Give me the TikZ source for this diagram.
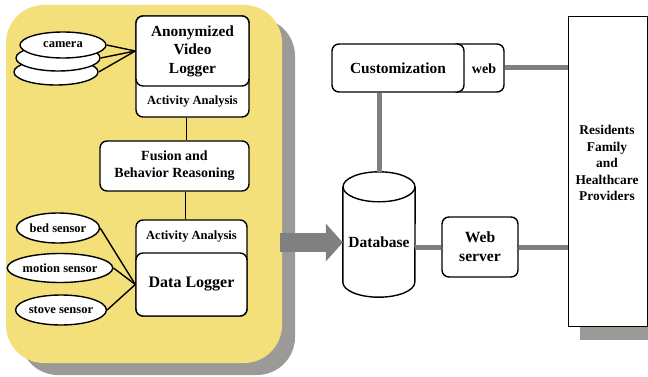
\documentclass[tikz,border=0pt]{standalone}
\usepackage{fontspec}
\setmainfont{Liberation Serif}
\usetikzlibrary{shapes.geometric,arrows.meta}

\definecolor{panelyellow}{RGB}{244,224,122}
\definecolor{shadowgray}{RGB}{156,154,150}
\definecolor{linkgray}{RGB}{128,128,128}

\tikzset{
    box/.style={draw, line width=1.4pt, rounded corners=7pt, fill=white, inner sep=0pt},
    sensor/.style={draw, line width=1.4pt, ellipse, fill=white, inner sep=0pt, font=\bfseries\fontsize{12.5}{14}\selectfont},
    lbl/.style={inner sep=0pt, align=center},
    wire/.style={line width=1.4pt},
    link/.style={line width=5pt, linkgray}
}

\begin{document}
\begin{tikzpicture}[x=1pt, y=-1pt]

        \useasboundingbox (0,0) rectangle (648,377);

        % sensing panel
        \fill[shadowgray, rounded corners=38pt] (20,18) rectangle (295,375);
        \fill[panelyellow, rounded corners=38pt] (6,5) rectangle (282,363);

        % video logger
        \node[box, minimum width=113pt, minimum height=101pt] (vlog) at (192.5,66.5) {};
        \node[box, minimum width=113pt, minimum height=70pt, font=\bfseries\fontsize{15.4}{18.5}\selectfont, align=center] (vtop) at (192.5,51) {Anonymized\\Video\\Logger};
        \node[lbl, font=\bfseries\fontsize{12.5}{14}\selectfont] (vact) at (192.5,101.5) {Activity Analysis};

        \node[sensor, minimum width=84pt, minimum height=26pt] (cam3) at (56,72) {};
        \node[sensor, minimum width=84pt, minimum height=26pt] (cam2) at (58,58) {};
        \node[sensor, minimum width=86pt, minimum height=26pt] (cam1) at (63,45) {camera};
        \foreach \c in {cam1, cam2, cam3}
            \draw[wire] (\c.east) -- (vtop.west);

        % fusion
        \node[box, minimum width=149pt, minimum height=50pt, font=\bfseries\fontsize{14}{17}\selectfont, align=center] (fusion) at (174.5,166) {Fusion and\\Behavior Reasoning};

        % data logger
        \node[box, minimum width=111pt, minimum height=96pt] (dlog) at (191.5,268) {};
        \node[box, minimum width=111pt, minimum height=63pt, font=\bfseries\fontsize{16}{18}\selectfont] (dbot) at (191.5,284.5) {Data Logger};
        \node[lbl, font=\bfseries\fontsize{12.5}{14}\selectfont] (dact) at (191.5,237) {Activity Analysis};

        \node[sensor, minimum width=83pt, minimum height=30pt] (bed) at (58,228) {bed sensor};
        \node[sensor, minimum width=84pt, minimum height=29pt] (motion) at (60,268) {motion sensor};
        \node[sensor, minimum width=83pt, minimum height=30pt] (stove) at (61,310) {stove sensor};
        \foreach \s in {bed, motion, stove}
            \draw[wire] (\s.east) -- (dbot.west);

        \draw[wire] ([xshift=-6pt]vlog.south) -- ([xshift=-6pt]vlog.south |- fusion.north);
        \draw[wire] ([xshift=-6pt]dlog.north |- fusion.south) -- ([xshift=-6pt]dlog.north);

        % database
        \node[minimum width=72pt, minimum height=125pt, inner sep=0pt] (db) at (379,234.5) {};
        \draw[line width=1.4pt, fill=white] ([yshift=-15pt]db.north west) -- ([yshift=15pt]db.south west)
            arc[start angle=180, end angle=0, x radius=36, y radius=15] -- ([yshift=-15pt]db.north east);
        \draw[line width=1.4pt, fill=white] ([yshift=-15pt]db.north) ellipse[x radius=36, y radius=15];
        \node[lbl, font=\bfseries\fontsize{15.5}{18}\selectfont] (dbtext) at (379,242) {Database};

        \coordinate (armstart) at (280,242.5);
        \draw[linkgray, line width=19pt, -{Triangle[length=17pt, width=37pt]}] (armstart) -- (armstart -| db.west);

        % web side
        \node[box, minimum width=54pt, minimum height=48pt] (webtab) at (477,68) {};
        \node[lbl, font=\bfseries\fontsize{14}{16}\selectfont] (weblbl) at (484,69) {web};
        \node[box, minimum width=132pt, minimum height=48pt, font=\bfseries\fontsize{15.4}{18}\selectfont] (cust) at (398,68) {Customization};

        \node[box, minimum width=76pt, minimum height=60pt, font=\bfseries\fontsize{15.6}{19}\selectfont, align=center] (websrv) at (480,247) {Web\\server};

        \fill[shadowgray] (580,30) rectangle (660,340);
        \node[draw, line width=0.9pt, fill=white, minimum width=79pt, minimum height=310pt] (res) at (607.5,171) {};
        \node[lbl, font=\bfseries\fontsize{13.4}{16.5}\selectfont] (restext) at (607,163) {Residents\\Family\\and\\Healthcare\\Providers};

        \draw[link] (cust.south -| db.north) -- (db.north);
        \draw[link] (webtab.east) -- (webtab.east -| res.west);
        \draw[link] (websrv.west -| db.east) -- (websrv.west);
        \draw[link] (websrv.east) -- (websrv.east -| res.west);
    \end{tikzpicture}
\end{document}
